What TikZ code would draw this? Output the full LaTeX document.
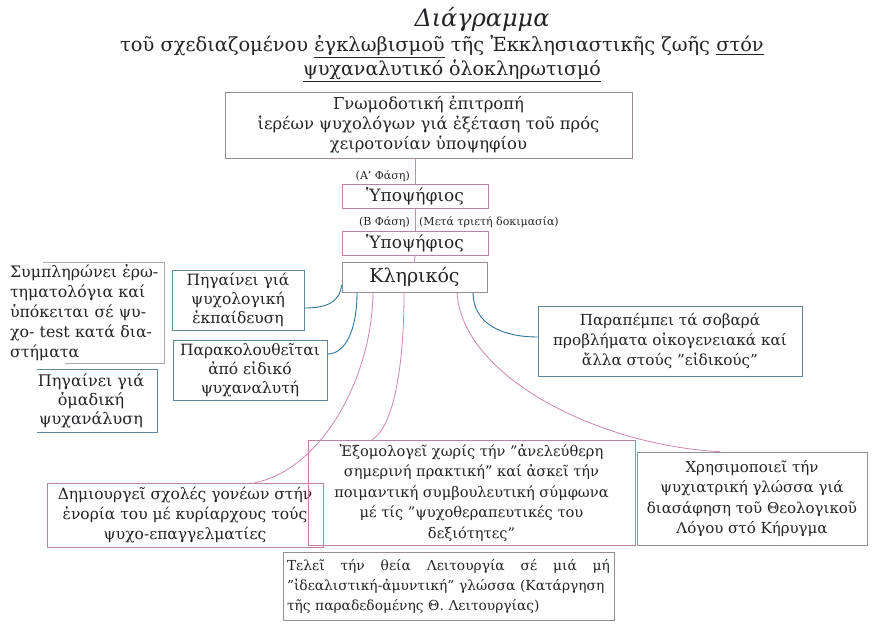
\documentclass[tikz,border=0pt]{standalone}
\usepackage{fontspec}
\setmainfont{DejaVu Serif}
\newcommand\fsz[2]{\fontsize{#1}{#2}\selectfont}
\definecolor{inkc}{RGB}{35,35,40}
\definecolor{pinkc}{RGB}{205,135,175}
\definecolor{bluec}{RGB}{45,115,155}
\definecolor{pinkbox}{RGB}{185,130,160}
\definecolor{bluebox}{RGB}{95,135,155}
\definecolor{graybox}{RGB}{150,140,145}
\definecolor{faintbox}{RGB}{175,170,175}
\begin{document}
\begin{tikzpicture}[x=1pt,y=-1pt,
  bx/.style={draw=#1, line width=0.7pt, inner sep=2pt, align=center, text=inkc},
  nb/.style={inner sep=2pt, text=inkc},
  lbl/.style={text=inkc, inner sep=1pt, font=\fsz{11}{13}},
  pinkline/.style={draw=pinkc, line width=0.8pt},
  blueline/.style={draw=bluec, line width=0.9pt},
  openbox/.style={draw=#1, line width=0.7pt}]
\useasboundingbox (0,0) rectangle (882,644);
\fill[white] (0,0) rectangle (882,644);
% title
\node[text=inkc, font=\fsz{24}{26}\itshape] (t1) at (482,19) {Διάγραμμα};
\node[text=inkc, font=\fsz{19.4}{22}] (t2) at (442,47) {τοῦ σχεδιαζομένου \underline{ἐγκλωβισμοῦ} τῆς Ἐκκλησιαστικῆς ζωῆς \underline{στόν}};
\node[text=inkc, font=\fsz{19}{22}] (t3) at (452,71) {\underline{ψυχαναλυτικό ὁλοκληρωτισμό}};
% chain
\node[bx=graybox, minimum width=407, minimum height=66, font=\fsz{16.4}{20}] (gn) at (428.5,125) {Γνωμοδοτική ἐπιτροπή\\ ἱερέων ψυχολόγων γιά ἐξέταση τοῦ πρός\\ χειροτονίαν ὑποψηφίου};
\node[bx=pinkbox, minimum width=146, minimum height=24, font=\fsz{17}{18}] (yp1) at (415,196) {Ὑποψήφιος};
\node[bx=pinkbox, minimum width=146, minimum height=24, font=\fsz{17}{18}] (yp2) at (415,243) {Ὑποψήφιος};
\node[bx=graybox, minimum width=145, minimum height=30, font=\fsz{19}{22}] (kl) at (414.5,277) {Κληρικός};
\node[lbl, anchor=east] (fa) at (411,176) {(Α' Φάση)};
\node[lbl, anchor=east] (fb) at (411,222) {(Β Φάση)};
\node[lbl, anchor=west] (md) at (418,222) {(Μετά τριετή δοκιμασία)};
% side boxes
\node[bx=bluebox, minimum width=132, minimum height=60, font=\fsz{15.5}{19}] (pe) at (238,300) {Πηγαίνει γιά\\ ψυχολογική\\ ἐκπαίδευση};
\node[bx=bluebox, minimum width=154, minimum height=60, font=\fsz{15.5}{19}] (pa) at (250,370) {Παρακολουθεῖται\\ ἀπό εἰδικό\\ ψυχαναλυτή};
\node[nb, minimum width=159, minimum height=100, text width=149, align=left, font=\fsz{15.8}{20}] (sy) at (84.5,313) {Συμπληρώνει ἐρω-\\ τηματολόγια καί\\ ὑπόκειται σέ ψυ-\\ χο- test κατά δια-\\ στήματα};
\draw[openbox=faintbox] ([xshift=38pt]sy.north west) -- (sy.north east) -- (sy.south east) -- ([xshift=60pt]sy.south west);
\node[nb, minimum width=132, minimum height=62, align=center, font=\fsz{16}{19}] (om) at (91,401) {Πηγαίνει γιά\\ ὁμαδική\\ ψυχανάλυση};
\draw[openbox=bluebox] ([xshift=12pt]om.north west) -- (om.north east) -- (om.south east) -- ([xshift=12pt]om.south west);
\node[bx=bluebox, minimum width=264, minimum height=70, font=\fsz{15.2}{20}] (pr) at (670,341) {Παραπέμπει τά σοβαρά\\ προβλήματα οἰκογενειακά καί\\ ἄλλα στούς "εἰδικούς"};
% bottom boxes
\node[bx=pinkbox, minimum width=276, minimum height=64, font=\fsz{15.5}{20}] (dh) at (185,515) {Δημιουργεῖ σχολές γονέων στήν\\ ἐνορία του μέ κυρίαρχους τούς\\ ψυχο-επαγγελματίες};
\node[bx=pinkbox, minimum width=327, minimum height=105, font=\fsz{14.6}{20.5}] (ex) at (471.5,492.5) {Ἐξομολογεῖ χωρίς τήν "ἀνελεύθερη\\ σημερινή πρακτική" καί ἀσκεῖ τήν\\ ποιμαντική συμβουλευτική σύμφωνα\\ μέ τίς "ψυχοθεραπευτικές του\\ δεξιότητες"};
\node[bx=graybox, minimum width=230, minimum height=93, font=\fsz{15}{20.5}] (xr) at (752,498.5) {Χρησιμοποιεῖ τήν\\ ψυχιατρική γλώσσα γιά\\ διασάφηση τοῦ Θεολογικοῦ\\ Λόγου στό Κήρυγμα};
\node[bx=graybox, minimum width=331, minimum height=68, text width=323, align=left, font=\fsz{13.8}{20}] (te) at (448.5,586) {\makebox[323pt][l]{Τελεῖ\hfill τήν\hfill θεία\hfill Λειτουργία\hfill σέ\hfill μιά\hfill μή}\\ "ἰδεαλιστική-ἀμυντική" γλώσσα (Κατάργηση\\ τῆς παραδεδομένης Θ. Λειτουργίας)};
% connectors
\draw[pinkline] (gn.south -| yp1.north) -- (yp1.north);
\draw[pinkline] (yp1.south) -- (yp2.north);
\draw[pinkline] (yp2.south) -- (kl.north);
\draw[blueline] ([yshift=-8pt]kl.west) .. controls +(-2,18) and +(21,0) .. ([yshift=-8pt]pe.east);
\draw[blueline] ([xshift=-57.5pt]kl.south) .. controls +(0,38) and +(18,0) .. ([yshift=16pt]pa.east);
\draw[blueline] ([xshift=58.5pt]kl.south) .. controls +(0,33) and +(-33,0) .. ([yshift=4pt]pr.west);
\draw[pinkline] ([xshift=-41.5pt]kl.south) .. controls +(-1,88) and +(65,-13) .. ([xshift=70pt]dh.north);
\draw[pinkline] ([xshift=-10.5pt]kl.south) .. controls +(0,88) and +(18,-10) .. ([xshift=-99.5pt]ex.north);
\draw[pinkline] ([xshift=42.5pt]kl.south) .. controls +(5,85) and +(-120,-6) .. ([xshift=-32pt]xr.north);
\end{tikzpicture}
\end{document}
